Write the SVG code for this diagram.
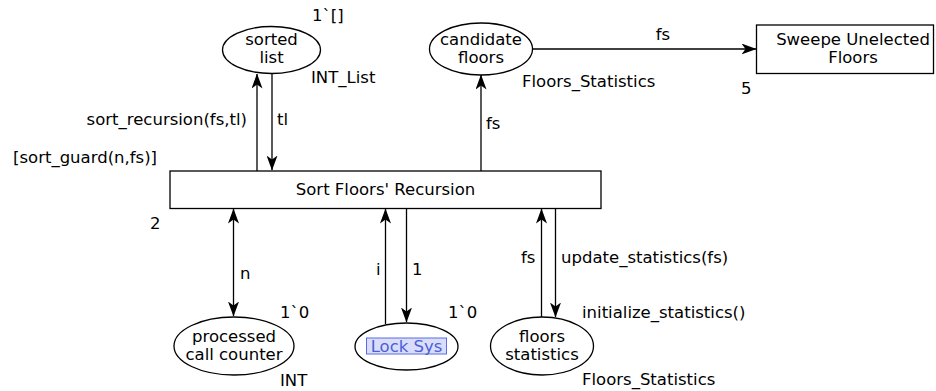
<svg xmlns="http://www.w3.org/2000/svg" width="936" height="391" viewBox="0 0 936 391">
  <style>
    text { font-family: "DejaVu Sans", Verdana, sans-serif; font-size: 16.5px; fill: #000; }
    .place, .trans { fill: #fff; stroke: #000; stroke-width: 1.3; }
    .arc { fill: none; stroke: #000; stroke-width: 1.3; }
    .mid { text-anchor: middle; }
    .end { text-anchor: end; }
  </style>
  <defs>
    <marker id="ah" viewBox="0 0 15 11" refX="14.5" refY="5.5" markerWidth="15" markerHeight="11" markerUnits="userSpaceOnUse" orient="auto-start-reverse">
      <path d="M0,0 L15,5.5 L0,11 L4,5.5 Z" fill="#000"/>
    </marker>
  </defs>

  <rect width="936" height="391" fill="#fff"/>

  <!-- connectors -->
  <g id="arcs">
    <line class="arc" x1="257" y1="171" x2="257" y2="74" marker-end="url(#ah)"/>
    <line class="arc" x1="272" y1="73" x2="272" y2="170" marker-end="url(#ah)"/>
    <line class="arc" x1="481" y1="171" x2="481" y2="75" marker-end="url(#ah)"/>
    <line class="arc" x1="532" y1="49" x2="756" y2="49" marker-end="url(#ah)"/>
    <line class="arc" x1="233.5" y1="209" x2="233.5" y2="316" marker-start="url(#ah)" marker-end="url(#ah)"/>
    <line class="arc" x1="385.5" y1="324" x2="385.5" y2="209" marker-end="url(#ah)"/>
    <line class="arc" x1="406.5" y1="208" x2="406.5" y2="322" marker-end="url(#ah)"/>
    <line class="arc" x1="541.5" y1="317" x2="541.5" y2="209" marker-end="url(#ah)"/>
    <line class="arc" x1="555.5" y1="208" x2="555.5" y2="317" marker-end="url(#ah)"/>

    <text class="end" x="247" y="125">sort_recursion(fs,tl)</text>
    <text x="277" y="125">tl</text>
    <text x="486" y="129">fs</text>
    <text class="mid" x="663" y="40">fs</text>
    <text x="240" y="279">n</text>
    <text x="376" y="275">i</text>
    <text x="412" y="275">1</text>
    <text x="521" y="263">fs</text>
    <text x="561" y="263">update_statistics(fs)</text>
  </g>

  <!-- transitions -->
  <g id="sort-floors-recursion">
    <rect class="trans" x="170" y="171" width="431" height="37.5"/>
    <text class="mid" x="385.5" y="195">Sort Floors' Recursion</text>
    <text x="13" y="163">[sort_guard(n,fs)]</text>
    <text x="150" y="229">2</text>
  </g>

  <g id="sweepe-unelected-floors">
    <rect class="trans" x="756.5" y="25" width="177" height="48.5"/>
    <text class="mid" x="853" y="45">Sweepe Unelected</text>
    <text class="mid" x="853" y="63">Floors</text>
    <text x="741" y="94">5</text>
  </g>

  <!-- places -->
  <g id="sorted-list">
    <ellipse class="place" cx="271.5" cy="50" rx="49" ry="23.5"/>
    <text class="mid" x="271.5" y="45">sorted</text>
    <text class="mid" x="271.5" y="63">list</text>
    <text x="312" y="21">1`[]</text>
    <text x="311" y="83">INT_List</text>
  </g>

  <g id="candidate-floors">
    <ellipse class="place" cx="481" cy="49" rx="51.5" ry="26"/>
    <text class="mid" x="481" y="45">candidate</text>
    <text class="mid" x="481" y="63">floors</text>
    <text x="522" y="87">Floors_Statistics</text>
  </g>

  <g id="processed-call-counter">
    <ellipse class="place" cx="234" cy="346" rx="60" ry="29"/>
    <text class="mid" x="234" y="342">processed</text>
    <text class="mid" x="234" y="360">call counter</text>
    <text x="280" y="318">1`0</text>
    <text x="280" y="386">INT</text>
  </g>

  <g id="lock-sys">
    <ellipse class="place" cx="406.5" cy="346.5" rx="51.5" ry="23.5"/>
    <rect x="366.5" y="338" width="80" height="16" fill="#d9ddfa" stroke="#5b6ce8" stroke-width="1"/>
    <text class="mid" x="406.5" y="352" style="fill:#4a5fd6">Lock Sys</text>
    <text x="448" y="318">1`0</text>
  </g>

  <g id="floors-statistics">
    <ellipse class="place" cx="542" cy="346" rx="51.5" ry="29"/>
    <text class="mid" x="542" y="342">floors</text>
    <text class="mid" x="542" y="360">statistics</text>
    <text x="582" y="318">initialize_statistics()</text>
    <text x="582" y="385">Floors_Statistics</text>
  </g>
</svg>
